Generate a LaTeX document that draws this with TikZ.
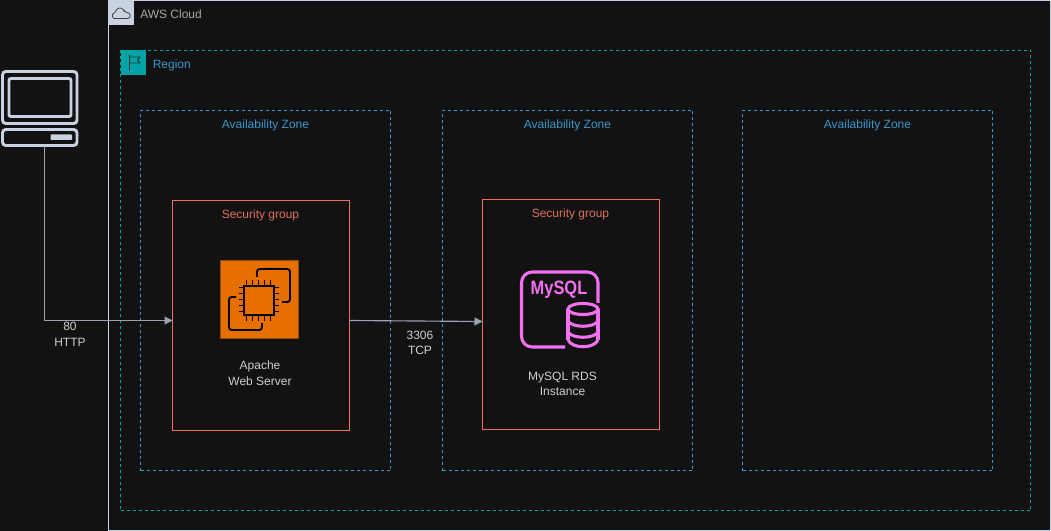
\documentclass[tikz,border=0pt]{standalone}
\usepackage{fontspec}
\setmainfont{Liberation Sans}
\usetikzlibrary{arrows.meta,calc}
\definecolor{bg}{HTML}{121212}
\definecolor{awsline}{HTML}{C8D2E0}
\definecolor{teal}{HTML}{00A4A6}
\definecolor{azblue}{HTML}{2F9BD8}
\definecolor{regtext}{HTML}{3A96CC}
\definecolor{sgred}{HTML}{F0705F}
\definecolor{sgtext}{HTML}{E0705F}
\definecolor{label}{HTML}{CFCFCF}
\definecolor{greyt}{HTML}{A6A6A6}
\definecolor{arrowc}{HTML}{9AA3AF}
\definecolor{ec2}{HTML}{E76F00}
\definecolor{ec2edge}{HTML}{8F4B0A}
\definecolor{rds}{HTML}{F470F0}
\tikzset{
  txt/.style={font=\fontsize{9}{11.8}\selectfont,align=center,inner sep=0pt},
  groupbox/.style={draw,fill=none,inner sep=0pt,outer sep=0pt,line width=0.75pt},
  azbox/.style={groupbox,draw=azblue,dash pattern=on 2.25pt off 2.25pt},
  regionbox/.style={groupbox,draw=teal,dash pattern=on 2.25pt off 2.25pt},
  sgbox/.style={groupbox,draw=sgred},
  cloudbox/.style={groupbox,draw=awsline},
  conn/.style={draw=arrowc,line width=0.85pt,-{Triangle[length=6pt,width=6pt]}},
  pin/.style={line width=1.4pt,draw=black},
  rdsline/.style={draw=rds,line width=2.3pt},
  pcline/.style={draw=awsline,line width=2.2pt,rounded corners=2.5pt}
}
\newcommand{\groupnode}[6]{%
  \node[#1,minimum width={(#5-#3)*0.75pt},minimum height={(#6-#4)*0.75pt}] (#2) at ({(#3+#5)/2},{(#4+#6)/2}) {};}
\begin{document}
\begin{tikzpicture}[x=0.75pt,y=-0.75pt]
\useasboundingbox (0,0) rectangle (1051,531);
\fill[bg] (0,0) rectangle (1051,531);
% groups
\groupnode{cloudbox}{aws}{108.5}{1}{1050}{530}
\groupnode{regionbox}{region}{120.5}{50.5}{1030.5}{510.5}
\groupnode{azbox}{azA}{140.5}{110.5}{390.5}{470.5}
\groupnode{azbox}{azB}{442.5}{110.5}{692.5}{470.5}
\groupnode{azbox}{azC}{742.5}{110.5}{992.5}{470.5}
\groupnode{sgbox}{sgA}{172.5}{200.5}{349.5}{430.5}
\groupnode{sgbox}{sgB}{482.5}{199.5}{659.5}{429.5}
% AWS header
\fill[awsline] (108.5,1) rectangle (133.5,25.5);
\draw[black!75,line width=0.6pt,rounded corners=1.2pt]
  (116,18.5) .. controls (112,18.5) and (111.5,13.5) .. (115.5,13)
  .. controls (116,9) and (120,7) .. (123,9.5)
  .. controls (125,11) and (125,12) .. (125.5,12.5)
  .. controls (131,12.5) and (131.5,18.5) .. (126,18.5) -- cycle;
\node[txt,text=greyt,anchor=west] (awslabel) at (140,14.5) {AWS Cloud};
% Region header
\fill[teal] (120.5,50.5) rectangle (145.5,75.5);
\draw[black!80,line width=0.6pt] (129,55) -- (129,71);
\draw[black!80,line width=0.6pt] (129,57) -- (140,57) -- (137.5,60) -- (140,63) -- (129,63);
\node[txt,text=regtext,anchor=west] (regionlabel) at (152.5,65.5) {Region};
% AZ labels
\node[txt,text=regtext] (azlA) at (265.5,125) {Availability Zone};
\node[txt,text=regtext] (azlB) at (567.5,125) {Availability Zone};
\node[txt,text=regtext] (azlC) at (867.5,125) {Availability Zone};
% SG labels
\node[txt,text=sgtext] (sglA) at (260.5,215) {Security group};
\node[txt,text=sgtext] (sglB) at (570.5,214) {Security group};
% computer icon
\draw[pcline] (2.5,71.5) rectangle (77,123.5);
\draw[pcline,rounded corners=1.5pt] (9,78.5) rectangle (71,116.5);
\draw[pcline] (2.5,129.5) rectangle (77,145.5);
\fill[awsline,rounded corners=0.6pt] (50.5,134.5) rectangle (72,140);
\coordinate (pcport) at (44.5,146);
% EC2 icon
\node[draw=ec2edge,fill=ec2,line width=0.75pt,minimum size=58.5pt,inner sep=0pt,outer sep=0pt] (ec2icon) at (259.3,299.3) {};
\draw[line width=1.5pt,black] (244,286) rectangle (274,315);
\foreach \x in {246.5,252.5,258.5,264.5,270.5}{
  \draw[pin] (\x,280) -- (\x,286);
  \draw[pin] (\x,315) -- (\x,321);
}
\foreach \y in {287.5,293.5,299.5,305.5,311.5}{
  \draw[pin] (239,\y) -- (244,\y);
  \draw[pin] (274,\y) -- (279,\y);
}
\draw[line width=1.4pt,black,rounded corners=2pt] (257,277) -- (257,269) -- (290,269) -- (290,302) -- (282,302);
\draw[line width=1.4pt,black,rounded corners=2pt] (236,297) -- (229,297) -- (229,330) -- (262,330) -- (262,323);
\node[txt,text=label] (ec2label) at (260,373) {Apache\\Web Server};
% RDS icon
\draw[rdsline,rounded corners=8pt] (598,303) -- (598,272) -- (521.5,272) -- (521.5,347) -- (565,347);
\node[inner sep=0pt,text=rds,font=\fontsize{14.5}{14.5}\selectfont\bfseries] (mysql) at (559,289.5) {\scalebox{0.85}[1]{MySQL}};
\draw[rdsline] (568,309) -- (568,340);
\draw[rdsline] (598,309) -- (598,340);
\draw[rdsline] (583,309) ellipse [x radius=15,y radius=5.5];
\draw[rdsline] (568,321) .. controls (572,328) and (594,328) .. (598,321);
\draw[rdsline] (568,332) .. controls (572,339) and (594,339) .. (598,332);
\draw[rdsline] (568,340) .. controls (572,349) and (594,349) .. (598,340);
\node[txt,text=label] (rdslabel) at (562.5,384) {MySQL RDS\\Instance};
% connectors
\draw[conn] (pcport) |- ($(sgA.west)+(0,5)$);
\draw[conn] ($(sgA.east)+(0,5)$) -- ($(sgB.west)+(0,7)$);
\node[txt,text=label] (httplabel) at (70,334) {80\\HTTP};
\node[txt,text=label] (tcplabel) at (420,343) {3306\\TCP};
\end{tikzpicture}
\end{document}
